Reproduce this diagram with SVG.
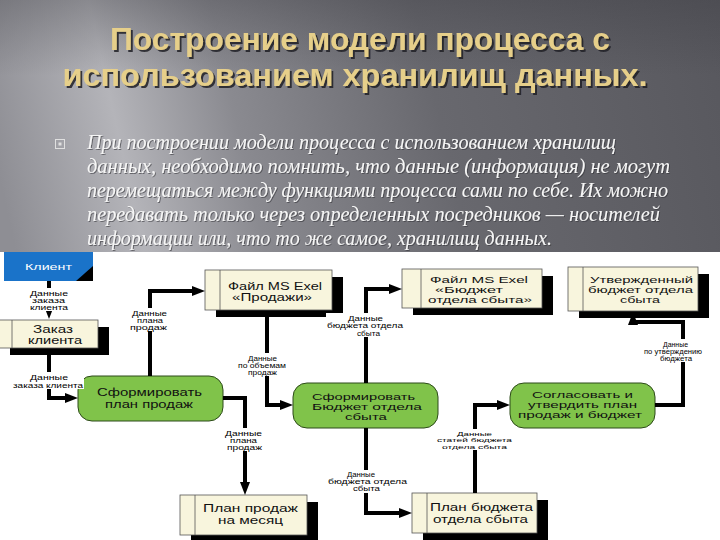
<svg xmlns="http://www.w3.org/2000/svg" width="720" height="540" viewBox="0 0 720 540">
<defs>
<linearGradient id="bg" gradientUnits="userSpaceOnUse" x1="0" y1="180" x2="720" y2="20">
<stop offset="0" stop-color="#8e8e94"/>
<stop offset="0.17" stop-color="#b4b4b9"/>
<stop offset="0.33" stop-color="#8a8a90"/>
<stop offset="0.6" stop-color="#68686e"/>
<stop offset="1" stop-color="#58585e"/>
</linearGradient>
<linearGradient id="topshade" x1="0" y1="0" x2="0" y2="1">
<stop offset="0" stop-color="#3a3a40" stop-opacity="0.35"/>
<stop offset="0.3" stop-color="#3a3a40" stop-opacity="0"/>
</linearGradient>
<filter id="tsh" x="-5%" y="-30%" width="110%" height="160%">
<feDropShadow dx="2" dy="2" stdDeviation="0.6" flood-color="#222226" flood-opacity="0.85"/>
</filter>
<filter id="bsh" x="-5%" y="-30%" width="110%" height="160%">
<feDropShadow dx="1" dy="1" stdDeviation="0.5" flood-color="#333338" flood-opacity="0.6"/>
</filter>
<marker id="ah" viewBox="0 0 13 10" refX="7" refY="5" markerWidth="13" markerHeight="10" markerUnits="userSpaceOnUse" orient="auto">
<path d="M0,0 L13,5 L0,10 z" fill="#000"/>
</marker>
<style>
.title{font-family:"Liberation Sans",Arial,sans-serif;font-weight:bold;font-size:31px;fill:#e6cf8a;filter:url(#tsh);}
.body{font-family:"Liberation Serif","Times New Roman",serif;font-style:italic;font-size:20px;fill:#f6f6f6;filter:url(#bsh);}
.store{fill:#f8f5dd;stroke:#555;stroke-width:0.8;}
.shadow{fill:#000;}
.div{stroke:#555;stroke-width:0.8;}
.proc{fill:#80c34a;stroke:#2d4a1a;stroke-width:1;}
.nt{font-family:"Liberation Sans",Arial,sans-serif;font-size:10px;fill:#111;}
.n3{font-family:"Liberation Sans",Arial,sans-serif;font-size:9px;fill:#111;}
.pt{font-family:"Liberation Sans",Arial,sans-serif;font-size:10.5px;fill:#111;}
.p3{font-family:"Liberation Sans",Arial,sans-serif;font-size:9.5px;fill:#111;}
.conn{fill:none;stroke:#000;stroke-width:4;stroke-linejoin:miter;marker-end:url(#ah);}
.lb{font-family:"Liberation Sans",Arial,sans-serif;font-size:6.5px;fill:#000;}
.lbs{font-family:"Liberation Sans",Arial,sans-serif;font-size:6px;fill:#000;}
.lbg{fill:#fff;}
</style>
</defs>

<!-- slide background -->
<rect x="0" y="0" width="720" height="540" fill="url(#bg)"/>
<rect x="0" y="0" width="720" height="252" fill="url(#topshade)"/>

<!-- title -->
<g id="title">
<text class="title" x="360" y="50" text-anchor="middle" textLength="500" lengthAdjust="spacingAndGlyphs">Построение модели процесса с</text>
<text class="title" x="355" y="86" text-anchor="middle" textLength="585" lengthAdjust="spacingAndGlyphs">использованием хранилищ данных.</text>
</g>

<!-- bullet text -->
<g id="bullet-text">
<rect x="55.5" y="139.5" width="9" height="9" fill="none" stroke="#e0e0e0" stroke-width="1"/>
<rect x="58.5" y="142.5" width="3" height="3" fill="#e0e0e0"/>
<text class="body" x="87" y="149" textLength="529" lengthAdjust="spacingAndGlyphs">При построении модели процесса с использованием хранилищ</text>
<text class="body" x="87" y="173" textLength="583" lengthAdjust="spacingAndGlyphs">данных, необходимо помнить, что данные (информация) не могут</text>
<text class="body" x="87" y="197" textLength="581" lengthAdjust="spacingAndGlyphs">перемещаться между функциями процесса сами по себе. Их можно</text>
<text class="body" x="87" y="221" textLength="573" lengthAdjust="spacingAndGlyphs">передавать только через определенных посредников — носителей</text>
<text class="body" x="87" y="245" textLength="465" lengthAdjust="spacingAndGlyphs">информации или, что то же самое, хранилищ данных.</text>
</g>

<!-- diagram canvas -->
<rect x="0" y="252" width="720" height="288" fill="#ffffff"/>

<!-- nodes -->
<g id="node-client">
<rect x="4" y="252" width="89" height="29" fill="#1a73c9"/>
<polygon points="93,266 93,281 76,281" fill="#000"/>
<text x="25" y="270" font-family="Liberation Sans, Arial, sans-serif" font-size="9" fill="#fff" textLength="47" lengthAdjust="spacingAndGlyphs">Клиент</text>
</g>

<g id="store-order">
<rect class="shadow" x="10" y="327" width="99" height="28"/>
<rect class="store" x="-1" y="320" width="99" height="28"/>
<line class="div" x1="12" y1="320" x2="12" y2="348"/>
<text class="nt" x="33" y="333" textLength="40" lengthAdjust="spacingAndGlyphs">Заказ</text>
<text class="nt" x="28" y="344" textLength="54" lengthAdjust="spacingAndGlyphs">клиента</text>
</g>

<g id="store-sales-file">
<rect class="shadow" x="216" y="277" width="127" height="40"/>
<rect class="store" x="205" y="270" width="127" height="40"/>
<line class="div" x1="220" y1="270" x2="220" y2="310"/>
<text class="nt" x="228" y="290" textLength="94" lengthAdjust="spacingAndGlyphs">Файл MS Exel</text>
<text class="nt" x="232" y="301" textLength="80" lengthAdjust="spacingAndGlyphs">«Продажи»</text>
</g>

<g id="store-budget-file">
<rect class="shadow" x="413" y="276" width="140" height="39"/>
<rect class="store" x="402" y="269" width="140" height="39"/>
<line class="div" x1="421" y1="269" x2="421" y2="308"/>
<text class="n3" x="430" y="283" textLength="98" lengthAdjust="spacingAndGlyphs">Файл MS Exel</text>
<text class="n3" x="435" y="293" textLength="68" lengthAdjust="spacingAndGlyphs">«Бюджет</text>
<text class="n3" x="428" y="303" font-size="7.5" textLength="104" lengthAdjust="spacingAndGlyphs">отдела сбыта»</text>
</g>

<g id="store-approved-budget">
<rect class="shadow" x="579" y="274" width="130" height="44"/>
<rect class="store" x="568" y="267" width="130" height="44"/>
<line class="div" x1="583" y1="267" x2="583" y2="311"/>
<text class="n3" x="590" y="283" textLength="103" lengthAdjust="spacingAndGlyphs">Утвержденный</text>
<text class="n3" x="588" y="293" textLength="105" lengthAdjust="spacingAndGlyphs">бюджет отдела</text>
<text class="n3" x="620" y="303" textLength="40" lengthAdjust="spacingAndGlyphs">сбыта</text>
</g>

<g id="proc-sales-plan">
<rect class="proc" x="78" y="376" width="145" height="45" rx="14" ry="14"/>
<text class="pt" x="97" y="396" textLength="105" lengthAdjust="spacingAndGlyphs">Сформировать</text>
<text class="pt" x="105" y="408" textLength="88" lengthAdjust="spacingAndGlyphs">план продаж</text>
</g>

<g id="proc-budget">
<rect class="proc" x="293" y="383" width="145" height="45" rx="14" ry="14"/>
<text class="p3" x="312" y="400" textLength="103" lengthAdjust="spacingAndGlyphs">Сформировать</text>
<text class="p3" x="312" y="410" textLength="110" lengthAdjust="spacingAndGlyphs">Бюджет отдела</text>
<text class="p3" x="345" y="420" textLength="42" lengthAdjust="spacingAndGlyphs">сбыта</text>
</g>

<g id="proc-approve">
<rect class="proc" x="510" y="383" width="145" height="45" rx="14" ry="14"/>
<text class="p3" x="532" y="398" textLength="101" lengthAdjust="spacingAndGlyphs">Согласовать и</text>
<text class="p3" x="528" y="408" textLength="109" lengthAdjust="spacingAndGlyphs">утвердить план</text>
<text class="p3" x="518" y="418" textLength="124" lengthAdjust="spacingAndGlyphs">продаж и бюджет</text>
</g>

<g id="store-monthly-plan">
<rect class="shadow" x="191" y="502" width="127" height="40"/>
<rect class="store" x="180" y="495" width="127" height="40"/>
<line class="div" x1="195" y1="495" x2="195" y2="535"/>
<text class="nt" x="203" y="512" textLength="95" lengthAdjust="spacingAndGlyphs">План продаж</text>
<text class="nt" x="218" y="524" textLength="65" lengthAdjust="spacingAndGlyphs">на месяц</text>
</g>

<g id="store-budget-plan">
<rect class="shadow" x="423" y="500" width="125" height="40"/>
<rect class="store" x="412" y="493" width="125" height="40"/>
<line class="div" x1="427" y1="493" x2="427" y2="533"/>
<text class="nt" x="430" y="511" textLength="103" lengthAdjust="spacingAndGlyphs">План бюджета</text>
<text class="nt" x="433" y="523" textLength="95" lengthAdjust="spacingAndGlyphs">отдела сбыта</text>
</g>

<!-- connectors -->
<g id="connectors">
<path class="conn" d="M49,281 V313"/>
<path class="conn" d="M49,355 V398 H72"/>
<path class="conn" d="M150,376 V291 H199"/>
<path class="conn" d="M267,317 V405 H287"/>
<path class="conn" d="M223,398 H245 V489"/>
<path class="conn" d="M366,383 V289 H396"/>
<path class="conn" d="M366,428 V513 H406"/>
<path class="conn" d="M475,493 V405 H504"/>
<path class="conn" d="M655,405 H683 V322 H633 V318"/>

<g id="label-1">
<rect class="lbg" x="28" y="288" width="42" height="23"/>
<text class="lb" x="30" y="295.5" textLength="38" lengthAdjust="spacingAndGlyphs">Данные</text>
<text class="lb" x="32" y="302.5" textLength="33" lengthAdjust="spacingAndGlyphs">заказа</text>
<text class="lb" x="30" y="309.5" textLength="38" lengthAdjust="spacingAndGlyphs">клиента</text>
</g>
<g id="label-2">
<rect class="lbg" x="12" y="372" width="72" height="17"/>
<text class="lb" x="30" y="379.5" textLength="38" lengthAdjust="spacingAndGlyphs">Данные</text>
<text class="lb" x="13" y="387.5" textLength="70" lengthAdjust="spacingAndGlyphs">заказа клиента</text>
</g>
<g id="label-3">
<rect class="lbg" x="129" y="308" width="40" height="23"/>
<text class="lb" x="132" y="315.5" textLength="35" lengthAdjust="spacingAndGlyphs">Данные</text>
<text class="lb" x="137" y="322.5" textLength="26" lengthAdjust="spacingAndGlyphs">плана</text>
<text class="lb" x="130" y="329.5" textLength="37" lengthAdjust="spacingAndGlyphs">продаж</text>
</g>
<g id="label-4">
<rect class="lbg" x="237" y="353" width="51" height="23"/>
<text class="lb" x="248" y="360.5" textLength="29" lengthAdjust="spacingAndGlyphs">Данные</text>
<text class="lb" x="238" y="367.5" textLength="48" lengthAdjust="spacingAndGlyphs">по объемам</text>
<text class="lb" x="248" y="374.5" textLength="29" lengthAdjust="spacingAndGlyphs">продаж</text>
</g>
<g id="label-5">
<rect class="lbg" x="326" y="313" width="79" height="24"/>
<text class="lb" x="348" y="320.5" textLength="35" lengthAdjust="spacingAndGlyphs">Данные</text>
<text class="lb" x="327" y="328" textLength="76" lengthAdjust="spacingAndGlyphs">бюджета отдела</text>
<text class="lb" x="357" y="335.5" textLength="23" lengthAdjust="spacingAndGlyphs">сбыта</text>
</g>
<g id="label-6">
<rect class="lbg" x="642" y="339" width="62" height="23"/>
<text class="lb" x="663" y="346.5" textLength="25" lengthAdjust="spacingAndGlyphs">Данные</text>
<text class="lb" x="644" y="353.5" textLength="58" lengthAdjust="spacingAndGlyphs">по утверждению</text>
<text class="lb" x="660" y="360.5" textLength="32" lengthAdjust="spacingAndGlyphs">бюджета</text>
</g>
<g id="label-7">
<rect class="lbg" x="224" y="428" width="40" height="23"/>
<text class="lb" x="225" y="435.5" textLength="37" lengthAdjust="spacingAndGlyphs">Данные</text>
<text class="lb" x="230" y="442.5" textLength="27" lengthAdjust="spacingAndGlyphs">плана</text>
<text class="lb" x="227" y="449.5" textLength="35" lengthAdjust="spacingAndGlyphs">продаж</text>
</g>
<g id="label-8">
<rect class="lbg" x="326" y="470" width="83" height="23"/>
<text class="lb" x="347" y="477" textLength="28" lengthAdjust="spacingAndGlyphs">Данные</text>
<text class="lb" x="328" y="484" textLength="79" lengthAdjust="spacingAndGlyphs">бюджета отдела</text>
<text class="lb" x="353" y="491" textLength="27" lengthAdjust="spacingAndGlyphs">сбыта</text>
</g>
<g id="label-9">
<rect class="lbg" x="435" y="429" width="79" height="21"/>
<text class="lbs" x="457" y="435.5" textLength="35" lengthAdjust="spacingAndGlyphs">Данные</text>
<text class="lbs" x="437" y="442" textLength="75" lengthAdjust="spacingAndGlyphs">статей бюджета</text>
<text class="lbs" x="442" y="448.5" textLength="65" lengthAdjust="spacingAndGlyphs">отдела сбыта</text>
</g>
</g>
</svg>
